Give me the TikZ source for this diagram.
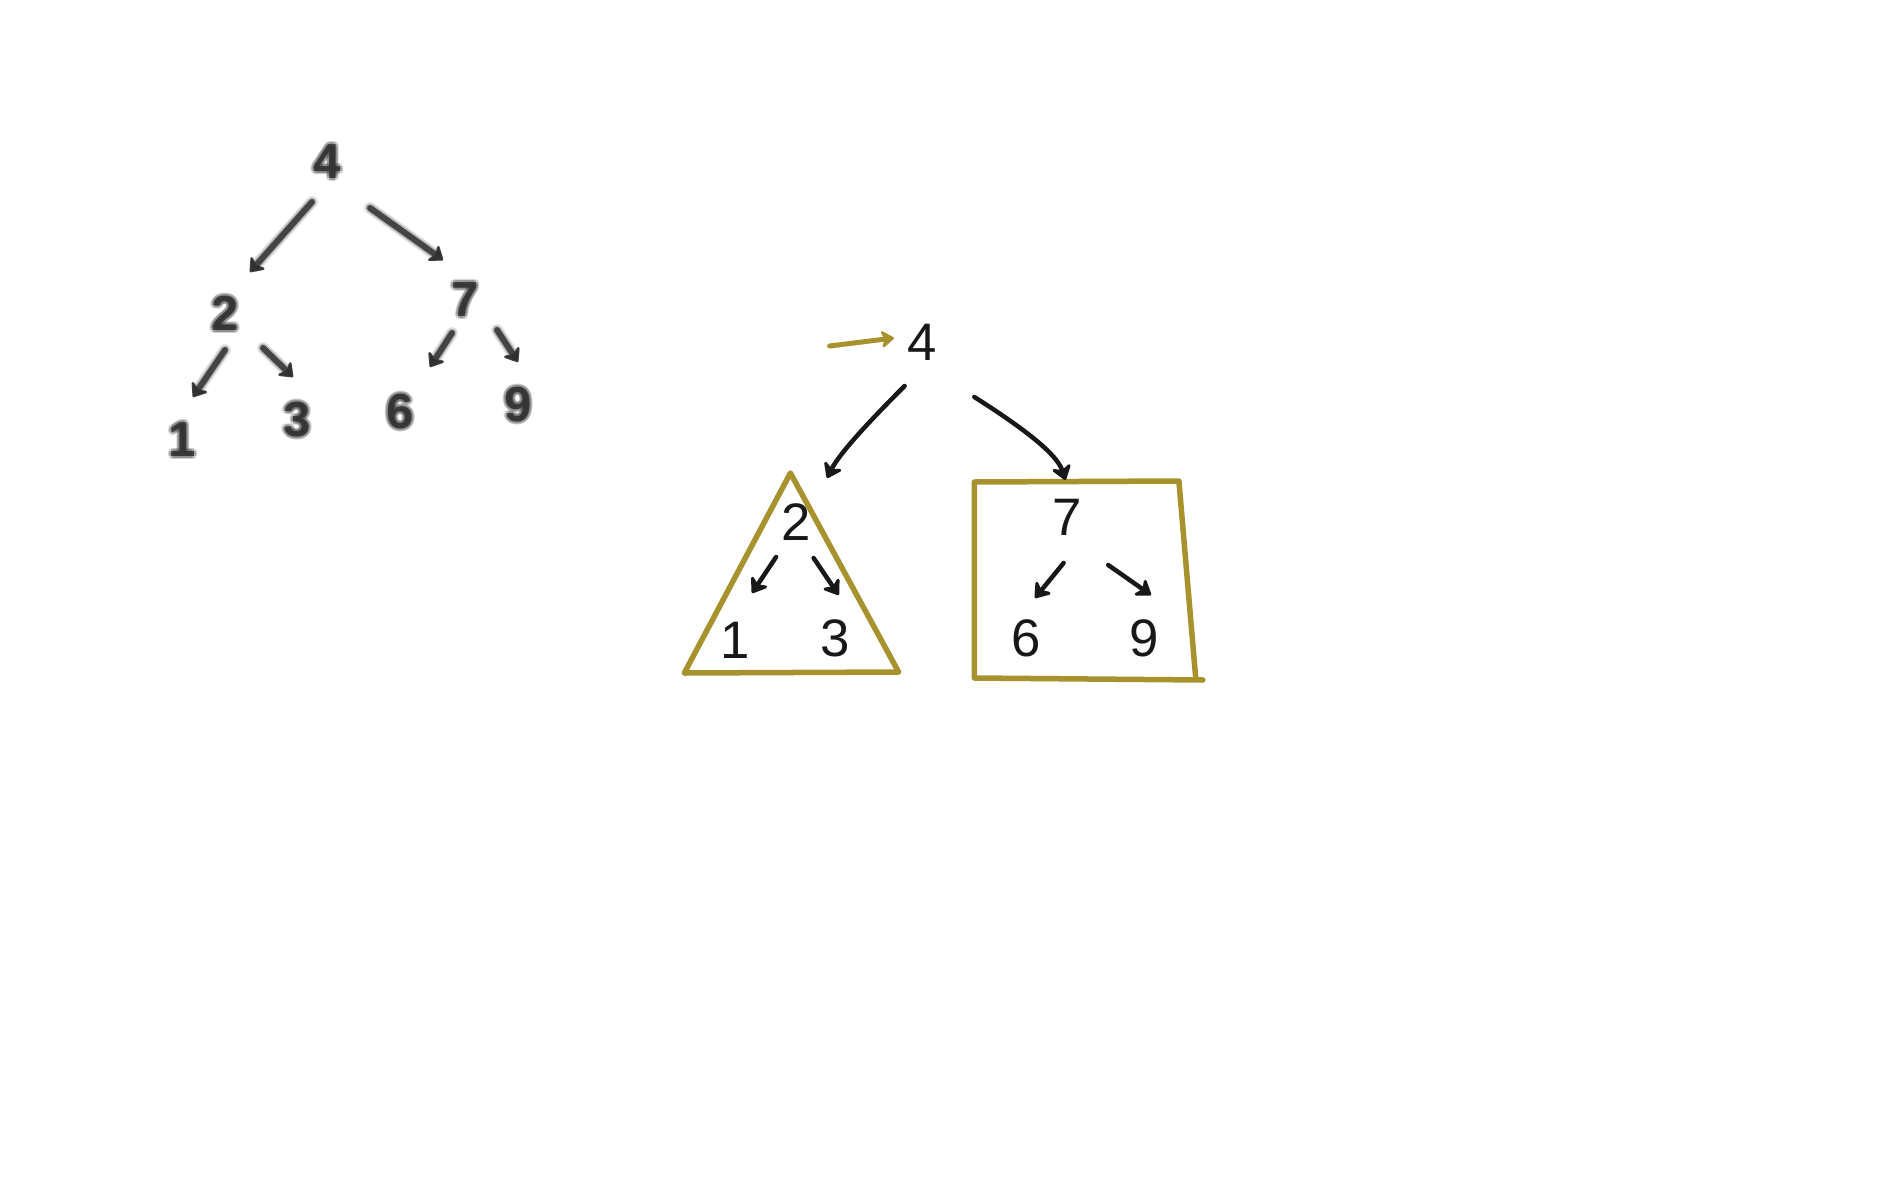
\documentclass[tikz,border=0pt]{standalone}
\usepackage{fontspec}
\setmainfont{Liberation Sans}
\usetikzlibrary{arrows.meta}
\definecolor{gold}{RGB}{168,146,46}
\definecolor{ink}{RGB}{24,24,24}
\definecolor{smudge}{RGB}{48,48,48}
\newcommand\blurdigit[4]{% name, x, y, text
  \foreach \dx/\dy [count=\k] in {-3/0,3/0,0/-3,0/3,-2/-2,2/2,-2/2,2/-2}{%
    \node[bdig, opacity=0.22] (#1b\k) at ([shift={(\dx,\dy)}]#2,#3) {#4};}
  \node[bdig, opacity=0.85] (#1) at (#2,#3) {#4};}
\newcommand\blurarrow[2]{%
  \draw[barrA] #1 -- #2;
  \draw[barrB] #1 -- #2;
  \draw[barr] #1 -- #2;}
\begin{document}
\begin{tikzpicture}[x=0.01cm,y=-0.01cm,
  dig/.style={font=\fontsize{15}{18}\selectfont, text=ink, inner sep=0pt, outer sep=0pt},
  bdig/.style={font=\fontsize{14}{16}\selectfont\bfseries, text=smudge, inner sep=0pt, outer sep=0pt},
  arr/.style={draw=ink, line width=0.45mm, line cap=round, line join=round,
    -{Stealth[length=1.7mm,width=2.4mm,round]}},
  goldarr/.style={draw=gold, line width=0.5mm, line cap=round, line join=round,
    -{Stealth[length=1.5mm,width=2.1mm,round]}},
  goldline/.style={draw=gold, line width=0.55mm, line cap=round, line join=round},
  barr/.style={draw=smudge, line width=0.6mm, line cap=round, line join=round, draw opacity=0.85,
    -{Stealth[length=1.5mm,width=2.3mm,round]}},
  barrB/.style={draw=smudge, line width=0.9mm, line cap=round, line join=round, draw opacity=0.25,
    -{Stealth[length=1.5mm,width=2.3mm,round]}},
  barrA/.style={draw=smudge, line width=1.2mm, line cap=round, line join=round, draw opacity=0.12,
    -{Stealth[length=1.5mm,width=2.3mm,round]}},
]
\fill[white] (0,0) rectangle (1900,1200);
\useasboundingbox (0,0) rectangle (1900,1200);

% ---------- blurred tree (left) ----------
\blurdigit{L4}{327}{162}{4}
\blurdigit{L2}{225}{313}{2}
\blurdigit{L7}{465}{300}{7}
\blurdigit{L1}{182}{440}{1}
\blurdigit{L3}{297}{420}{3}
\blurdigit{L6}{400}{412}{6}
\blurdigit{L9}{518}{405}{9}

\blurarrow{([shift={(-15,40)}]L4.center)}{([shift={(25,-41)}]L2.center)}
\blurarrow{([shift={(43,46)}]L4.center)}{([shift={(-22,-40)}]L7.center)}
\blurarrow{([shift={(0,37)}]L2.center)}{([shift={(11,-43)}]L1.center)}
\blurarrow{([shift={(38,35)}]L2.center)}{([shift={(-4,-43)}]L3.center)}
\blurarrow{([shift={(-13,33)}]L7.center)}{([shift={(30,-45)}]L6.center)}
\blurarrow{([shift={(32,30)}]L7.center)}{([shift={(0,-43)}]L9.center)}

% ---------- sharp tree (right) ----------
\node[dig] (n4) at (922.5,342) {4};
\node[dig] (n2) at (795.7,522) {2};
\node[dig] (n1) at (735,640) {1};
\node[dig] (n3) at (835,638) {3};
\node[dig] (n7) at (1067.1,517) {7};
\node[dig] (n6) at (1026,638) {6};
\node[dig] (n9) at (1144,638) {9};

% gold pointer
\coordinate (gs) at (829.6,346);
\draw[goldarr] (gs) -- ([shift={(-28.6,-4)}]n4.center);

% triangle subtree
\coordinate (tA) at (790.4,473);
\coordinate (tB) at (684.3,673);
\coordinate (tC) at (898.6,672);
\draw[goldline] (tA) -- (tB) -- (tC) -- cycle;

% box subtree
\coordinate (qTL) at (974.3,482);
\coordinate (qTR) at (1178.9,481);
\coordinate (qBR) at (1195.7,678);
\coordinate (qBL) at (974.3,678);
\coordinate (qBX) at (1202.9,680);
\draw[goldline] (qBX) -- (qBL) -- (qTL) -- (qTR) -- (qBR);

% arrows from root
\draw[arr] ([shift={(-17.9,44)}]n4.center) .. controls +(-30,30) and +(13,-26) .. ([shift={(31.4,-44)}]n2.center);
\draw[arr] ([shift={(51.8,55)}]n4.center) .. controls +(41,26) and +(-9,-28) .. ([shift={(-1.7,-37)}]n7.center);

% inner arrows
\draw[arr] ([shift={(-19.6,35)}]n2.center) -- ([shift={(17.1,-47)}]n1.center);
\draw[arr] ([shift={(17.9,36)}]n2.center) -- ([shift={(3.6,-43)}]n3.center);
\draw[arr] ([shift={(-3.5,46)}]n7.center) -- ([shift={(9,-40)}]n6.center);
\draw[arr] ([shift={(41.1,48)}]n7.center) -- ([shift={(7,-43)}]n9.center);
\end{tikzpicture}
\end{document}
